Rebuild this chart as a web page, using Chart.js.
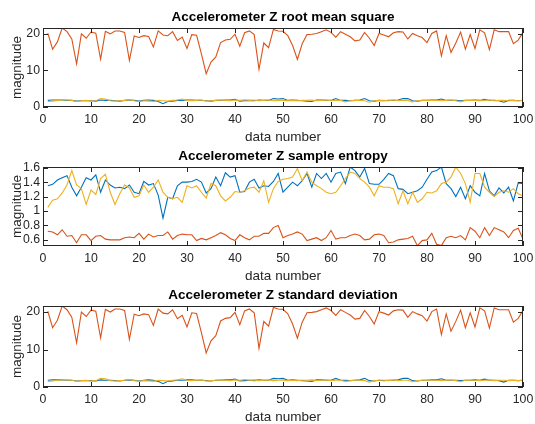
<!DOCTYPE html>
<html>
<head>
<meta charset="utf-8">
<script src="https://cdn.jsdelivr.net/npm/chart.js@4.4.0/dist/chart.umd.min.js"></script>
<style>
html, body { margin: 0; padding: 0; background: #fff; overflow: hidden; }
.plot { position: absolute; left: 0; width: 535px; }
</style>
</head>
<body>
<div class="plot" style="top:0px;height:145px"><canvas id="rmsChart"></canvas></div>
<div class="plot" style="top:139px;height:145px"><canvas id="entropyChart"></canvas></div>
<div class="plot" style="top:278px;height:147px"><canvas id="stdChart"></canvas></div>
<script>
var dataNumber = Array.from({ length: 100 }, (_, i) => i + 1);
var xTicks = [0, 10, 20, 30, 40, 50, 60, 70, 80, 90, 100];
var magTicks = [0, 10, 20];
var entropyTicks = [0.6, 0.8, 1, 1.2, 1.4, 1.6];

var rmsBlue = [1.8, 1.9, 1.9, 1.9, 1.8, 1.8, 1.6, 1.7, 1.7, 1.7,
    1.6, 1.9, 1.8, 1.8, 1.7, 1.6, 1.8, 1.9, 1.8, 1.6,
    1.8, 1.9, 1.8, 1.5, 0.9, 1.5, 1.6, 1.8, 1.8, 1.9,
    1.9, 1.8, 1.8, 1.7, 1.6, 1.8, 1.8, 1.9, 1.9, 2.1,
    1.6, 1.7, 1.8, 1.7, 1.9, 1.8, 1.8, 2.3, 2.2, 2.3,
    1.8, 1.9, 1.8, 1.7, 1.6, 1.5, 1.9, 1.9, 1.8, 1.8,
    2.3, 1.8, 1.8, 1.7, 1.8, 1.9, 2.3, 1.7, 1.6, 1.8,
    1.7, 1.8, 1.8, 1.9, 2.3, 2.3, 1.7, 1.6, 1.8, 1.8,
    1.9, 1.9, 2.2, 1.8, 1.8, 1.8, 1.7, 1.8, 1.8, 1.9,
    1.8, 2.1, 1.8, 1.8, 1.7, 1.3, 1.8, 1.8, 1.7, 1.8];
var rmsOrange = [20.2, 15.8, 17.8, 21.6, 20.6, 18.6, 11.8, 20.0, 18.8, 20.5,
    20.2, 13.1, 20.7, 20.0, 20.8, 20.8, 20.4, 12.7, 19.4, 19.0,
    19.5, 19.3, 16.4, 20.8, 19.7, 19.5, 20.6, 18.2, 19.1, 16.0,
    19.8, 19.6, 14.5, 9.1, 12.3, 13.7, 17.6, 18.3, 18.5, 19.9,
    16.6, 20.3, 20.8, 19.8, 10.3, 17.5, 16.2, 21.2, 20.8, 20.7,
    19.5, 16.8, 13.0, 17.3, 19.8, 19.9, 20.1, 20.6, 21.1, 20.4,
    19.1, 20.6, 19.9, 19.2, 18.1, 18.3, 20.4, 18.8, 16.8, 20.1,
    19.7, 19.2, 20.3, 20.6, 20.5, 18.6, 20.1, 19.5, 19.0, 17.6,
    20.1, 20.8, 14.0, 19.5, 14.9, 17.5, 20.5, 15.8, 19.8, 16.0,
    21.1, 20.3, 15.7, 21.1, 20.6, 20.6, 20.6, 17.3, 18.3, 20.4];
var rmsYellow = [1.5, 1.6, 1.8, 1.9, 1.9, 1.8, 1.5, 1.7, 1.8, 1.6,
    1.7, 2.3, 2.2, 1.7, 1.6, 1.7, 1.8, 2.0, 1.7, 1.5,
    1.7, 1.6, 1.5, 1.8, 1.7, 1.6, 1.8, 1.9, 2.2, 1.8,
    1.7, 1.8, 1.9, 1.6, 1.7, 1.8, 1.9, 1.8, 1.7, 1.9,
    1.8, 2.0, 1.8, 1.9, 1.7, 1.8, 1.9, 1.7, 1.8, 1.8,
    1.7, 1.8, 1.7, 1.8, 1.8, 1.9, 1.7, 1.8, 1.9, 1.7,
    1.8, 1.8, 1.4, 1.7, 1.8, 1.8, 1.7, 1.3, 1.7, 1.8,
    1.8, 1.7, 1.9, 1.7, 1.8, 1.8, 1.4, 1.7, 1.8, 1.8,
    1.8, 1.8, 1.7, 1.8, 1.9, 1.7, 1.4, 1.8, 1.8, 1.8,
    1.7, 1.8, 1.9, 1.7, 1.8, 1.8, 1.7, 1.8, 1.7, 1.8];

var entropyBlue = [1.35, 1.37, 1.43, 1.46, 1.49, 1.33, 1.21, 1.33, 1.46, 1.43,
    1.50, 1.26, 1.43, 1.36, 1.32, 1.33, 1.31, 1.36, 1.26, 1.24,
    1.41, 1.36, 1.38, 1.22, 0.90, 1.19, 1.17, 1.35, 1.40, 1.40,
    1.41, 1.44, 1.40, 1.25, 1.31, 1.47, 1.35, 1.53, 1.47, 1.49,
    1.26, 1.27, 1.40, 1.44, 1.32, 1.35, 1.34, 1.41, 1.52, 1.26,
    1.33, 1.40, 1.35, 1.42, 1.52, 1.33, 1.52, 1.45, 1.52, 1.40,
    1.52, 1.54, 1.38, 1.61, 1.56, 1.47, 1.59, 1.38, 1.37, 1.37,
    1.44, 1.52, 1.49, 1.31, 1.30, 1.24, 1.26, 1.28, 1.33, 1.44,
    1.54, 1.56, 1.61, 1.38, 1.31, 1.20, 1.33, 1.17, 1.35, 1.26,
    1.21, 1.52, 1.28, 1.21, 1.32, 1.25, 1.33, 1.14, 1.39, 1.38];
var entropyOrange = [0.72, 0.71, 0.67, 0.74, 0.65, 0.66, 0.56, 0.67, 0.67, 0.59,
    0.65, 0.66, 0.61, 0.60, 0.60, 0.60, 0.63, 0.64, 0.63, 0.69,
    0.61, 0.68, 0.64, 0.66, 0.66, 0.71, 0.61, 0.66, 0.68, 0.67,
    0.67, 0.59, 0.62, 0.60, 0.63, 0.66, 0.70, 0.67, 0.62, 0.59,
    0.67, 0.63, 0.60, 0.65, 0.65, 0.69, 0.69, 0.77, 0.80, 0.63,
    0.66, 0.68, 0.71, 0.68, 0.59, 0.61, 0.63, 0.59, 0.63, 0.73,
    0.61, 0.63, 0.63, 0.66, 0.68, 0.66, 0.60, 0.61, 0.67, 0.68,
    0.66, 0.56, 0.57, 0.60, 0.61, 0.62, 0.65, 0.52, 0.59, 0.60,
    0.69, 0.54, 0.52, 0.63, 0.65, 0.63, 0.66, 0.60, 0.77, 0.72,
    0.63, 0.77, 0.66, 0.77, 0.74, 0.71, 0.63, 0.73, 0.76, 0.61];
var entropyYellow = [1.05, 1.15, 1.17, 1.25, 1.36, 1.56, 1.36, 1.31, 1.09, 1.29,
    1.23, 1.45, 1.51, 1.26, 1.09, 1.24, 1.36, 1.32, 1.19, 1.21,
    1.36, 1.26, 1.33, 1.43, 1.26, 1.19, 1.17, 1.19, 1.12, 1.35,
    1.32, 1.35, 1.26, 1.18, 1.38, 1.35, 1.21, 1.14, 1.19, 1.27,
    1.26, 1.28, 1.32, 1.33, 1.26, 1.42, 1.12, 1.31, 1.41, 1.44,
    1.45, 1.47, 1.59, 1.42, 1.54, 1.40, 1.35, 1.31, 1.26, 1.24,
    1.26, 1.35, 1.45, 1.54, 1.52, 1.45, 1.40, 1.33, 1.21, 1.35,
    1.33, 1.33, 1.31, 1.10, 1.28, 1.10, 1.26, 1.12, 1.17, 1.26,
    1.25, 1.28, 1.38, 1.40, 1.47, 1.61, 1.52, 1.38, 1.12, 1.52,
    1.52, 1.33, 1.26, 1.20, 1.26, 1.28, 1.26, 1.31, 1.24, 1.21];

// the standard deviation plot shows the same curves as the rms one
var stdBlue = rmsBlue;
var stdOrange = rmsOrange;
var stdYellow = rmsYellow;

Chart.defaults.font.family = '"Liberation Sans", Arial, sans-serif';

// matlab style box with inward ticks on all four sides
var boxTicks = {
    id: 'boxTicks',
    afterDraw: function (chart) {
        var ctx = chart.ctx, a = chart.chartArea;
        var x = chart.scales.x, y = chart.scales.y;
        ctx.save();
        ctx.strokeStyle = '#262626';
        ctx.lineWidth = 1;
        ctx.strokeRect(Math.round(a.left) + 0.5, Math.round(a.top) + 0.5,
            Math.round(a.right - a.left) - 1, Math.round(a.bottom - a.top) - 1);
        ctx.beginPath();
        x.ticks.forEach(function (t) {
            var px = Math.round(x.getPixelForValue(t.value)) + 0.5;
            ctx.moveTo(px, a.bottom); ctx.lineTo(px, a.bottom - 5);
            ctx.moveTo(px, a.top); ctx.lineTo(px, a.top + 5);
        });
        y.ticks.forEach(function (t) {
            var py = Math.round(y.getPixelForValue(t.value)) + 0.5;
            ctx.moveTo(a.left, py); ctx.lineTo(a.left + 5, py);
            ctx.moveTo(a.right, py); ctx.lineTo(a.right - 5, py);
        });
        ctx.stroke();
        ctx.restore();
    }
};

function series(values, color, order) {
    return {
        data: values.map(function (v, i) { return { x: dataNumber[i], y: v }; }),
        borderColor: color,
        borderWidth: 1.1,
        pointRadius: 0,
        tension: 0,
        order: order
    };
}

function makeChart(id, title, blue, orange, yellow, yMin, yMax, yTicks) {
    return new Chart(document.getElementById(id), {
        type: 'line',
        data: {
            datasets: [
                series(blue, '#0072BD', 3),
                series(orange, '#D95319', 2),
                series(yellow, '#EDB120', 1)
            ]
        },
        options: {
            responsive: true,
            maintainAspectRatio: false,
            animation: false,
            layout: { padding: { left: 0, right: 12, top: 0, bottom: 0 } },
            plugins: {
                legend: { display: false },
                tooltip: { enabled: false },
                title: {
                    display: true,
                    text: title,
                    fullSize: false,
                    color: '#000',
                    font: { size: 13.5, weight: 'bold' },
                    padding: { top: 8.9, bottom: 2.9 }
                }
            },
            scales: {
                x: {
                    type: 'linear',
                    min: 0,
                    max: 100,
                    grid: { display: false, drawTicks: false },
                    border: { display: false },
                    afterBuildTicks: function (s) { s.ticks = xTicks.map(function (v) { return { value: v }; }); },
                    afterFit: function (s) {
                        s.height = 38;
                        s.paddingLeft = 0;
                        s.paddingRight = 0;
                    },
                    ticks: { padding: 5.5, color: '#262626', font: { size: 12.3 }, maxRotation: 0, autoSkip: false },
                    title: {
                        display: true,
                        text: 'data number',
                        color: '#262626',
                        font: { size: 13.5 },
                        padding: { top: 0, bottom: 0 }
                    }
                },
                y: {
                    type: 'linear',
                    min: yMin,
                    max: yMax,
                    grid: { display: false, drawTicks: false },
                    border: { display: false },
                    afterBuildTicks: function (s) { s.ticks = yTicks.map(function (v) { return { value: v }; }); },
                    afterFit: function (s) {
                        s.width = 43;
                        s.paddingTop = 0;
                        s.paddingBottom = 0;
                    },
                    ticks: {
                        padding: 3,
                        autoSkip: false,
                        color: '#262626',
                        font: { size: 12.3 },
                        callback: function (v) { return String(v); }
                    },
                    title: {
                        display: true,
                        text: 'magnitude',
                        color: '#262626',
                        font: { size: 13.5 },
                        padding: { top: 9, bottom: 0 }
                    }
                }
            }
        },
        plugins: [boxTicks]
    });
}

makeChart('rmsChart', 'Accelerometer Z root mean square', rmsBlue, rmsOrange, rmsYellow, 0, 21.6, magTicks);
makeChart('entropyChart', 'Accelerometer Z sample entropy', entropyBlue, entropyOrange, entropyYellow, 0.515, 1.61, entropyTicks);
makeChart('stdChart', 'Accelerometer Z standard deviation', stdBlue, stdOrange, stdYellow, 0, 21.6, magTicks);
</script>
</body>
</html>
